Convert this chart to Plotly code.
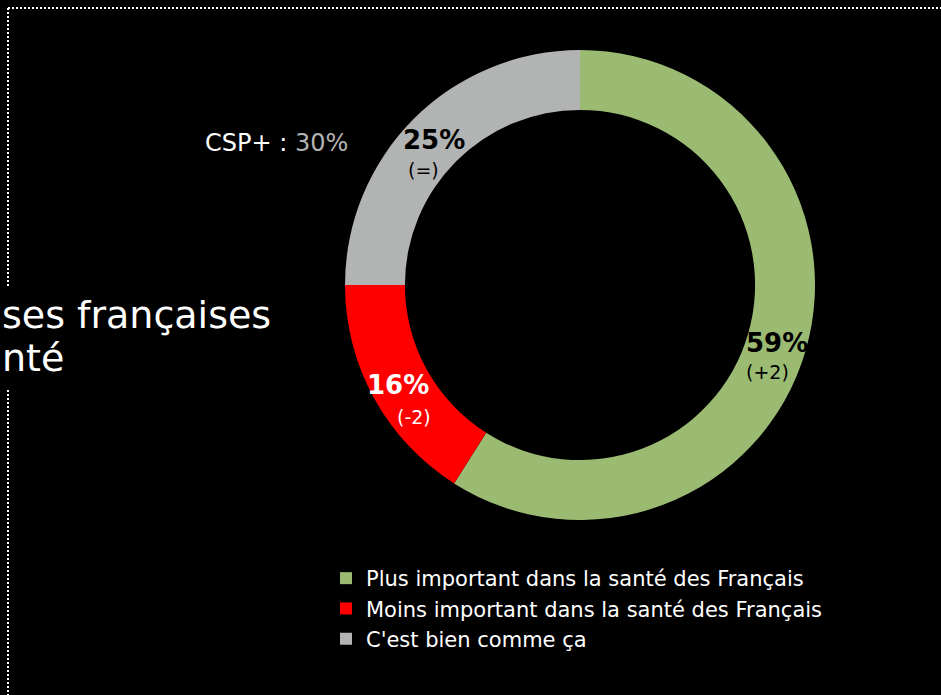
import plotly.graph_objects as go

W, H = 941, 695
FONT = "DejaVu Sans"

# data
categories = ["Plus important dans la santé des Français",
              "Moins important dans la santé des Français",
              "C'est bien comme ça"]
values = [59, 16, 25]
changes = ["(+2)", "(-2)", "(=)"]
colors = ["#9bbb72", "#ff0000", "#b2b4b3"]
csp_label = "CSP+ :"
csp_value = "30%"
title_lines = ["ses françaises", "nté"]


def px(x):
    return x / W


def py(y):
    return 1 - y / H


def note(x, y, text, size, color, bold=False, anchor="center"):
    fig.add_annotation(x=px(x), y=py(y), xref="paper", yref="paper",
                       xanchor=anchor, yanchor="middle",
                       text=f"<b>{text}</b>" if bold else text, showarrow=False,
                       font=dict(size=size, color=color, family=FONT))


fig = go.Figure()

fig.add_trace(go.Pie(
    labels=categories,
    values=values,
    marker=dict(colors=colors, line=dict(width=0)),
    hole=0.745,
    sort=False,
    direction="clockwise",
    rotation=0,
    textinfo="none",
    hoverinfo="label+percent",
    domain=dict(x=[px(345), px(815)], y=[py(520), py(50)]),
))

# labels on the ring
label_pos = [(777, 343, 767, 372, "black"),
             (398, 385, 414, 417, "white"),
             (434, 140, 423, 170, "black")]
for v, c, (x1, y1, x2, y2, col) in zip(values, changes, label_pos):
    note(x1, y1, f"{v}%", 26, col, bold=True)
    note(x2, y2, c, 19, col)

note(203, 143, f"{csp_label} <span style='color:#b2b4b3'>{csp_value}</span>",
     24, "white", anchor="left")

# clipped title on the left
for i, line in enumerate(title_lines):
    note(0, 315 + 43 * i, line, 38, "white", anchor="left")

# dotted frame
dot = dict(color="white", width=2, dash="2px,2px")
fig.add_shape(type="line", xref="paper", yref="paper", x0=px(8), x1=1, y0=py(8), y1=py(8), line=dot)
fig.add_shape(type="line", xref="paper", yref="paper", x0=px(8), x1=px(8), y0=py(8), y1=py(286), line=dot)
fig.add_shape(type="line", xref="paper", yref="paper", x0=px(8), x1=px(8), y0=py(390), y1=0, line=dot)

fig.update_layout(
    width=W, height=H,
    margin=dict(l=0, r=0, t=0, b=0),
    paper_bgcolor="black",
    plot_bgcolor="black",
    showlegend=True,
    legend=dict(x=px(326), y=py(558), xanchor="left", yanchor="top",
                font=dict(size=21, color="white", family=FONT),
                bgcolor="rgba(0,0,0,0)", itemwidth=30),
)

fig.write_html("out.html", config={"displayModeBar": False},
               post_script="document.body.style.margin='0';document.body.style.background='black';")
